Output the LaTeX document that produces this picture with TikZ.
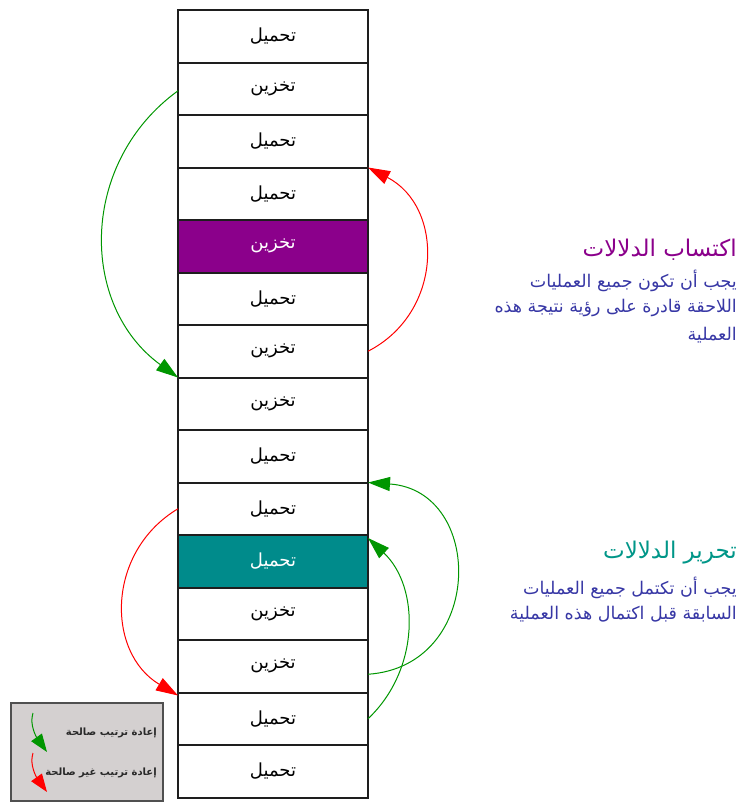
\documentclass[tikz,border=0pt]{standalone}
\usepackage{fontspec}
\usetikzlibrary{arrows.meta}
\TeXXeTstate=1
\newfontfamily\arabicfont[Script=Arabic]{DejaVu Sans}
\definecolor{cellline}{RGB}{30,30,30}
\definecolor{semA}{RGB}{139,0,139}
\definecolor{semB}{RGB}{0,139,139}
\definecolor{titleB}{RGB}{0,150,136}
\definecolor{bodyblue}{RGB}{55,55,165}
\definecolor{okgreen}{RGB}{0,150,0}
\definecolor{badred}{RGB}{255,0,0}
\definecolor{legfill}{RGB}{212,208,208}
\definecolor{legline}{RGB}{80,80,80}
\definecolor{legtext}{RGB}{40,40,40}
\begin{document}
\begin{tikzpicture}[x=1pt,y=-1pt,
  cell/.style={draw=cellline, line width=2pt, minimum width=190pt, minimum height=52.5pt,
    inner sep=0pt, outer sep=0pt, font=\arabicfont\fontsize{18}{20}\selectfont},
  hiA/.style={cell, fill=semA, text=white},
  hiB/.style={cell, fill=semB, text=white},
  okarrow/.style={draw=okgreen, line width=1pt, -{Triangle[length=22pt,width=14pt]}},
  badarrow/.style={draw=badred, line width=1pt, -{Triangle[length=22pt,width=14pt]}},
  legok/.style={draw=okgreen, line width=1pt, -{Triangle[length=18pt,width=13pt]}},
  legbad/.style={draw=badred, line width=1pt, -{Triangle[length=18pt,width=13pt]}},
  titleA/.style={anchor=east, inner sep=0pt, text=semA, font=\arabicfont\fontsize{23}{26}\selectfont},
  titleBs/.style={anchor=east, inner sep=0pt, text=titleB, font=\arabicfont\fontsize{23}{26}\selectfont},
  body/.style={anchor=east, inner sep=0pt, text=bodyblue, font=\arabicfont\fontsize{17.5}{20}\selectfont},
  legtxt/.style={anchor=east, inner sep=0pt, text=legtext, font=\arabicfont\bfseries\fontsize{10}{12}\selectfont},
  legbox/.style={draw=legline, fill=legfill, line width=1.2pt}
]
\useasboundingbox (0,0) rectangle (750,803);

% cells
\node[cell] (c1)  at (273,36.25)  {\beginR تحميل\endR};
\node[cell] (c2)  at (273,88.75)  {\beginR تخزين\endR};
\node[cell] (c3)  at (273,141.25) {\beginR تحميل\endR};
\node[cell] (c4)  at (273,193.75) {\beginR تحميل\endR};
\node[hiA]  (c5)  at (273,246.25) {\beginR تخزين\endR};
\node[cell] (c6)  at (273,298.75) {\beginR تحميل\endR};
\node[cell] (c7)  at (273,351.25) {\beginR تخزين\endR};
\node[cell] (c8)  at (273,403.75) {\beginR تخزين\endR};
\node[cell] (c9)  at (273,456.25) {\beginR تحميل\endR};
\node[cell] (c10) at (273,508.75) {\beginR تحميل\endR};
\node[hiB]  (c11) at (273,561.25) {\beginR تحميل\endR};
\node[cell] (c12) at (273,613.75) {\beginR تخزين\endR};
\node[cell] (c13) at (273,666.25) {\beginR تخزين\endR};
\node[cell] (c14) at (273,718.75) {\beginR تحميل\endR};
\node[cell] (c15) at (273,771.25) {\beginR تحميل\endR};

% arrows
\draw[okarrow] ([yshift=-2pt]c2.west) .. controls +(-99,72) and +(-99,-72) .. (c8.north west);
\draw[badarrow] (c7.east) .. controls +(76,-39) and +(76,39) .. (c4.north east);
\draw[badarrow] (c10.west) .. controls +(-72,43) and +(-72,-43) .. ([yshift=-3pt]c14.north west);
\coordinate (g1s) at ([yshift=-8pt]c13.east);
\draw[okarrow] (g1s) .. controls +(117,-8) and +(117,8) .. (c10.north east);
\draw[okarrow] (c14.east) .. controls +(52,-49) and +(52,49) .. ([yshift=-3pt]c11.north east);

% right texts
\node[titleA] (tA) at (737,250) {\beginR اكتساب الدلالات\endR};
\node[body] (bA1) at (737,281) {\beginR يجب أن تكون جميع العمليات\endR};
\node[body] (bA2) at (737,308) {\beginR اللاحقة قادرة على رؤية نتيجة هذه\endR};
\node[body] (bA3) at (737,335) {\beginR العملية\endR};

\node[titleBs] (tB) at (737,553) {\beginR تحرير الدلالات\endR};
\node[body] (bB1) at (737,588) {\beginR يجب أن تكتمل جميع العمليات\endR};
\node[body] (bB2) at (737,614) {\beginR السابقة قبل اكتمال هذه العملية\endR};

% legend
\draw[legbox] (11,703) rectangle (163,801);
\coordinate (l1s) at (33,713);
\coordinate (l1e) at (47,752);
\coordinate (l2s) at (33,753);
\coordinate (l2e) at (47,792);
\draw[legok] (l1s) .. controls +(-4,12) and +(-10,-14) .. (l1e);
\draw[legbad] (l2s) .. controls +(-4,12) and +(-10,-14) .. (l2e);
\node[legtxt] (lt1) at (157,733) {\beginR إعادة ترتيب صالحة\endR};
\node[legtxt] (lt2) at (157,773) {\beginR إعادة ترتيب غير صالحة\endR};
\end{tikzpicture}
\end{document}
